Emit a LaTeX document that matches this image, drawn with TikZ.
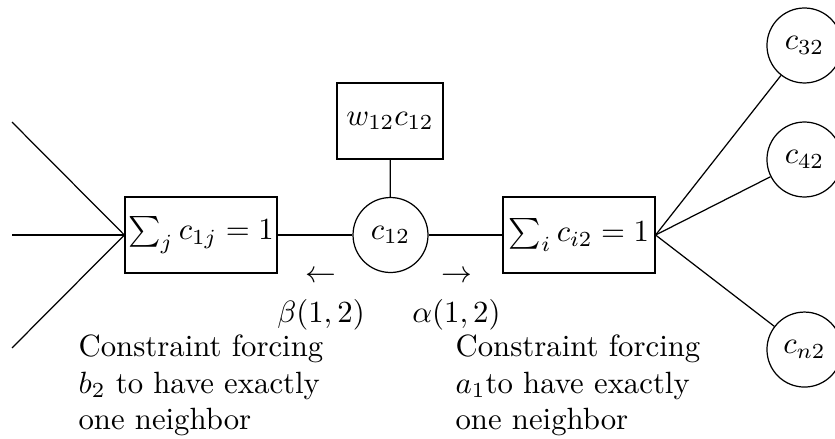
\documentclass[tikz,border=0pt]{standalone}
\usepackage{amsmath}
\usetikzlibrary{positioning}
\tikzset{
  factor/.style={draw, rectangle, inner sep=1pt, minimum width=1.737cm, minimum height=0.869cm},
  var/.style={draw, circle, minimum size=0.857cm, inner sep=1pt},
  msg/.style={inner sep=0pt},
  note/.style={align=left, anchor=north west, inner sep=0pt}
}

\begin{document}
\begin{tikzpicture}
\useasboundingbox (0,0) rectangle (9.543,5.006);
% factor graph around c_{12}
\node[factor] at (2.297,2.32) (rowsum) {$\sum_j c_{1j} = 1$};
\node[var] at (4.463,2.32) (c12) {$c_{12}$};
\node[factor, minimum width=1.211cm] at (4.457,3.623) (cost) {$w_{12}c_{12}$};
\node[factor] at (6.617,2.32) (colsum) {$\sum_i c_{i2} = 1$};
\node[var] at (9.194,4.486) (c32) {$c_{32}$};
\node[var] at (9.194,3.183) (c42) {$c_{42}$};
\node[var] at (9.194,1.011) (cn2) {$c_{n2}$};

\coordinate (in1) at (0.137,3.611);
\coordinate (in2) at (0.137,2.32);
\coordinate (in3) at (0.137,1.029);

\draw (rowsum.west) -- (in1);
\draw (rowsum.west) -- (in2);
\draw (rowsum.west) -- (in3);
\draw (rowsum) -- (c12);
\draw (c12) -- (cost);
\draw (c12) -- (colsum);
\draw (colsum.east) -- (c32);
\draw (colsum.east) -- (c42);
\draw (colsum.east) -- (cn2);

% messages
\node[msg] at (3.663,1.84) (larr) {$\leftarrow$};
\node[msg] at (5.223,1.84) (rarr) {$\rightarrow$};
\node[msg] at (3.669,1.406) (beta) {$\beta(1,2)$};
\node[msg] at (5.217,1.406) (alpha) {$\alpha(1,2)$};

\node[note] at (0.891,1.19) (leftnote) {Constraint forcing\\ $b_2$ to have exactly\\ one neighbor};
\node[note] at (5.2,1.19) (rightnote) {Constraint forcing\\ $a_1$to have exactly\\ one neighbor};
\end{tikzpicture}
\end{document}
